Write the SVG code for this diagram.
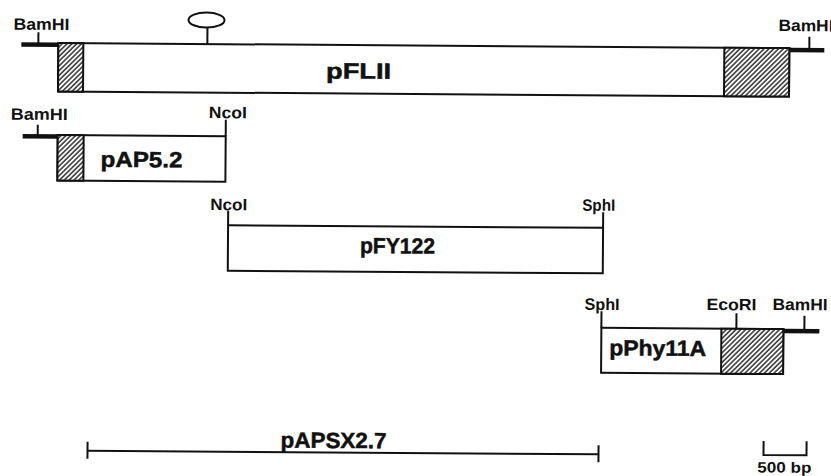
<svg xmlns="http://www.w3.org/2000/svg" width="831" height="476" viewBox="0 0 831 476">
<defs>
<pattern id="hatch" patternUnits="userSpaceOnUse" width="3.4" height="3.4" patternTransform="rotate(45)">
<rect width="3.4" height="3.4" fill="#fff"/>
<line x1="0.9" y1="0" x2="0.9" y2="3.4" stroke="#222" stroke-width="1.4"/>
</pattern>
<style>
.box{fill:#fff;stroke:#111;stroke-width:2}
.hatch{fill:url(#hatch);stroke:#111;stroke-width:2}
.thick{stroke:#111;stroke-width:4.5;fill:none}
.tick{stroke:#111;stroke-width:2;fill:none}
.lbl{font-family:"Liberation Sans",Arial,sans-serif;font-weight:bold;font-size:16.5px;fill:#111}
.name{font-size:22px;stroke:#111;stroke-width:0.5}
</style>
</defs>
<rect width="831" height="476" fill="#fff"/>
<g transform="rotate(0.4 415 238)">
<g id="pFLII">
<line class="thick" x1="20" y1="47.3" x2="57" y2="47.3"/>
<line class="thick" x1="788" y1="47.3" x2="823" y2="47.3"/>
<rect class="box" x="57" y="45.5" width="731" height="48.5"/>
<rect class="hatch" x="57" y="45.5" width="25" height="48.5"/>
<rect class="hatch" x="723" y="45.5" width="65" height="48.5"/>
<line class="tick" x1="37" y1="35" x2="37" y2="47"/>
<line class="tick" x1="808" y1="34" x2="808" y2="47"/>
<ellipse cx="205" cy="21.5" rx="18" ry="7.5" fill="none" stroke="#111" stroke-width="2"/>
<line class="tick" x1="206" y1="29" x2="206" y2="45.5"/>
<text class="lbl" x="12" y="32.5" textLength="56" lengthAdjust="spacingAndGlyphs">BamHI</text>
<text class="lbl" x="777" y="28.5" textLength="55" lengthAdjust="spacingAndGlyphs">BamHI</text>
<text class="lbl name" x="325" y="79" textLength="65" lengthAdjust="spacingAndGlyphs">pFLII</text>
</g>
<g id="pAP5.2">
<line class="thick" x1="22" y1="139" x2="57" y2="139"/>
<rect class="box" x="57" y="137.5" width="168" height="45.5"/>
<rect class="hatch" x="57" y="137.5" width="26" height="45.5"/>
<line class="tick" x1="37" y1="127.5" x2="37" y2="139"/>
<line class="tick" x1="225" y1="121" x2="225" y2="137.5"/>
<text class="lbl" x="10" y="122.5" textLength="57" lengthAdjust="spacingAndGlyphs">BamHI</text>
<text class="lbl" x="208" y="119.5" textLength="38" lengthAdjust="spacingAndGlyphs">NcoI</text>
<text class="lbl name" x="100" y="169" textLength="82" lengthAdjust="spacingAndGlyphs">pAP5.2</text>
</g>
<g id="pFY122">
<rect class="box" x="228" y="226.5" width="375" height="45.5"/>
<line class="tick" x1="228" y1="212" x2="228" y2="226.5"/>
<line class="tick" x1="603" y1="211" x2="603" y2="226.5"/>
<text class="lbl" x="210" y="211.5" textLength="37" lengthAdjust="spacingAndGlyphs">NcoI</text>
<text class="lbl" x="582" y="209.5" textLength="33" lengthAdjust="spacingAndGlyphs">SphI</text>
<text class="lbl name" x="360" y="253.5" textLength="75" lengthAdjust="spacingAndGlyphs">pFY122</text>
</g>
<g id="pPhy11A">
<line class="thick" x1="784" y1="328.5" x2="820" y2="328.5"/>
<rect class="box" x="602" y="326.5" width="182" height="45"/>
<rect class="hatch" x="722" y="326.5" width="62" height="45"/>
<line class="tick" x1="602" y1="310" x2="602" y2="326.5"/>
<line class="tick" x1="737" y1="311" x2="737" y2="326.5"/>
<line class="tick" x1="805" y1="313" x2="805" y2="327"/>
<text class="lbl" x="585" y="308.7" textLength="35" lengthAdjust="spacingAndGlyphs">SphI</text>
<text class="lbl" x="707" y="308" textLength="50" lengthAdjust="spacingAndGlyphs">EcoRI</text>
<text class="lbl" x="773" y="307.5" textLength="55" lengthAdjust="spacingAndGlyphs">BamHI</text>
<text class="lbl name" x="610" y="354" textLength="97" lengthAdjust="spacingAndGlyphs">pPhy11A</text>
</g>
<g id="pAPSX2.7">
<line class="tick" x1="89" y1="453" x2="600" y2="453"/>
<line class="tick" x1="89" y1="444" x2="89" y2="461" stroke-width="2.5"/>
<line class="tick" x1="600" y1="444" x2="600" y2="461" stroke-width="2.5"/>
<text class="lbl name" x="282" y="448.5" textLength="106" lengthAdjust="spacingAndGlyphs">pAPSX2.7</text>
</g>
<g id="scale">
<polyline class="tick" points="765,438.5 765,452.5 808,452.5 808,438.5"/>
<text class="lbl" x="759" y="470" style="font-size:15px" textLength="54" lengthAdjust="spacingAndGlyphs">500 bp</text>
</g>
</g>
</svg>
